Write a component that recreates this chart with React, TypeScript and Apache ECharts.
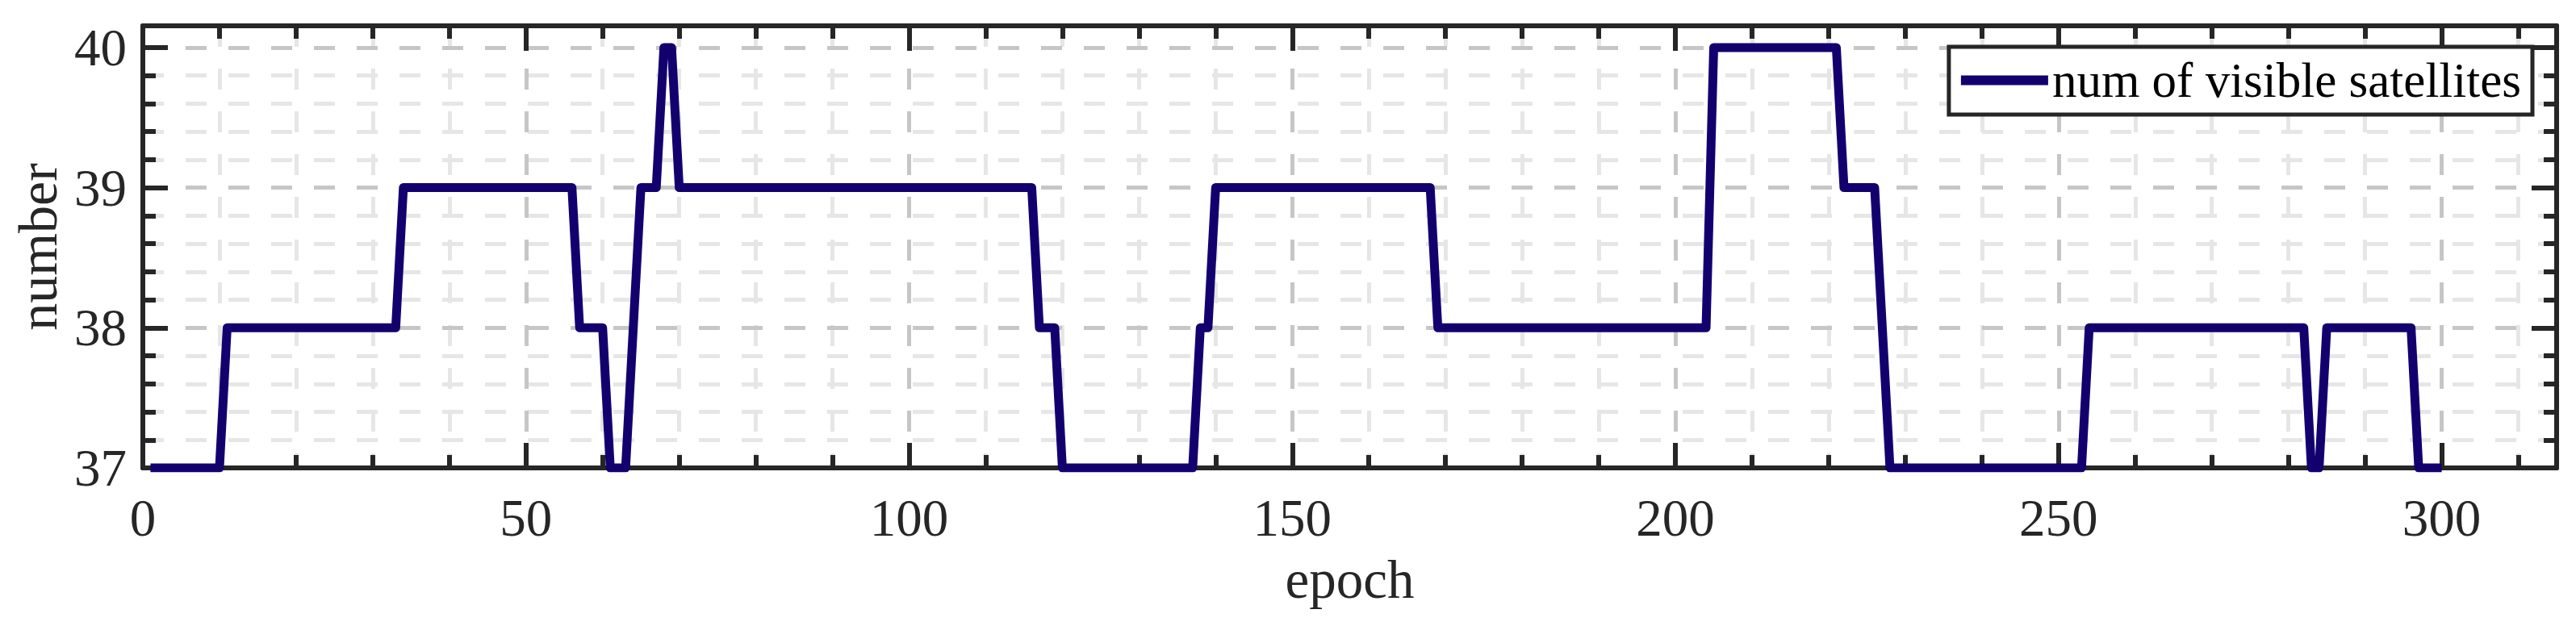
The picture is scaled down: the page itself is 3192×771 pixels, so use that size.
import React, { useEffect, useRef } from "react";
import * as echarts from "echarts";

// Breakpoints of the step-like curve (epoch, number of visible satellites)
const epochs = [1, 10, 11, 33, 34, 56, 57, 60, 61, 63, 64, 65, 67, 68, 69, 70, 116, 117, 119, 120, 137, 138, 139, 140, 168, 169, 204, 205, 221, 222, 226, 227, 228, 253, 254, 282, 283, 284, 285, 296, 297, 300];
const counts = [37, 37, 38, 38, 39, 39, 38, 38, 37, 37, 38, 39, 39, 40, 40, 39, 39, 38, 38, 37, 37, 38, 38, 39, 39, 38, 38, 40, 40, 39, 39, 38, 37, 37, 38, 38, 37, 37, 38, 38, 37, 37];

const seriesName = "num of visible satellites";
const xLabel = "epoch";
const yLabel = "number";

const X_MIN = 0;
const X_MAX = 315;
const Y_MIN = 37;
const Y_MAX = 40.155;

const FONT = "Liberation Serif";
const AXIS_COLOR = "#262626";
const MAJOR_GRID = "#c6c6c6";
const MINOR_GRID = "#e6e6e6";
const LINE_COLOR = "#12006e";

export default function App() {
  const ref = useRef<HTMLDivElement>(null);

  useEffect(() => {
    if (!ref.current) return;
    const chart = echarts.init(ref.current, null, { renderer: "svg" });

    const data = epochs.map((e, i) => [e, counts[i]]);

    const hDash = [26, 27];
    const vDash = [26, 27];
    const AW = 6; // axis / tick width

    const baseX = (opts: any) => ({
      type: "value",
      min: X_MIN,
      max: X_MAX,
      axisLine: { show: false, onZero: false },
      axisTick: { show: false },
      axisLabel: { show: false },
      splitLine: { show: false },
      ...opts,
    });
    const baseY = (opts: any) => ({
      type: "value",
      min: Y_MIN,
      max: Y_MAX,
      axisLine: { show: false, onZero: false },
      axisTick: { show: false },
      axisLabel: { show: false },
      splitLine: { show: false },
      ...opts,
    });

    const option: any = {
      animation: false,
      backgroundColor: "#ffffff",
      grid: { left: 177, right: 24, top: 32, bottom: 191, containLabel: false },
      legend: {
        show: true,
        data: [seriesName],
        right: 54,
        top: 58,
        orient: "horizontal",
        icon: "rect",
        itemWidth: 108,
        itemHeight: 12,
        padding: [11, 14, 12, 15],
        backgroundColor: "#ffffff",
        borderColor: AXIS_COLOR,
        borderWidth: 5,
        textStyle: { fontFamily: FONT, fontSize: 61, color: "#000000", lineHeight: 60 },
        z: 10,
      },
      xAxis: [
        baseX({
          position: "bottom",
          interval: 10,
          z: 0,
          axisTick: { show: true, inside: true, length: 16, lineStyle: { color: AXIS_COLOR, width: AW } },
          splitLine: { show: true, showMinLine: false, showMaxLine: false, lineStyle: { color: MINOR_GRID, width: 5, type: vDash } },
        }),
        baseX({
          position: "bottom",
          interval: 50,
          z: 1,
          name: xLabel,
          nameLocation: "middle",
          nameGap: 104,
          nameTextStyle: { fontFamily: FONT, fontSize: 67, color: AXIS_COLOR },
          axisLine: { show: true, onZero: false, lineStyle: { color: AXIS_COLOR, width: AW } },
          axisTick: { show: true, inside: true, length: 31, lineStyle: { color: AXIS_COLOR, width: AW } },
          axisLabel: { show: true, showMaxLabel: false, margin: 29, fontFamily: FONT, fontSize: 65, color: AXIS_COLOR },
          splitLine: { show: true, showMinLine: false, showMaxLine: false, lineStyle: { color: MAJOR_GRID, width: 5, type: vDash } },
        }),
        baseX({
          position: "top",
          interval: 10,
          z: 1,
          axisTick: { show: true, inside: true, length: 16, lineStyle: { color: AXIS_COLOR, width: AW } },
        }),
        baseX({
          position: "top",
          interval: 50,
          z: 1,
          axisLine: { show: true, onZero: false, lineStyle: { color: AXIS_COLOR, width: AW } },
          axisTick: { show: true, inside: true, length: 31, lineStyle: { color: AXIS_COLOR, width: AW } },
        }),
      ],
      yAxis: [
        baseY({
          position: "left",
          interval: 0.2,
          z: 0,
          axisTick: { show: true, inside: true, length: 16, lineStyle: { color: AXIS_COLOR, width: AW } },
          splitLine: { show: true, showMinLine: false, showMaxLine: false, lineStyle: { color: MINOR_GRID, width: 5, type: hDash } },
        }),
        baseY({
          position: "left",
          interval: 1,
          z: 1,
          name: yLabel,
          nameLocation: "middle",
          nameGap: 96,
          nameRotate: 90,
          nameTextStyle: { fontFamily: FONT, fontSize: 68, color: AXIS_COLOR },
          axisLine: { show: true, onZero: false, lineStyle: { color: AXIS_COLOR, width: AW } },
          axisTick: { show: true, inside: true, length: 31, lineStyle: { color: AXIS_COLOR, width: AW } },
          axisLabel: { show: true, showMaxLabel: false, margin: 20, fontFamily: FONT, fontSize: 65, color: AXIS_COLOR },
          splitLine: { show: true, showMinLine: false, showMaxLine: false, lineStyle: { color: MAJOR_GRID, width: 5, type: hDash } },
        }),
        baseY({
          position: "right",
          interval: 0.2,
          z: 1,
          axisTick: { show: true, inside: true, length: 16, lineStyle: { color: AXIS_COLOR, width: AW } },
        }),
        baseY({
          position: "right",
          interval: 1,
          z: 1,
          axisLine: { show: true, onZero: false, lineStyle: { color: AXIS_COLOR, width: AW } },
          axisTick: { show: true, inside: true, length: 31, lineStyle: { color: AXIS_COLOR, width: AW } },
        }),
      ],
      series: [
        {
          name: seriesName,
          type: "line",
          xAxisIndex: 1,
          yAxisIndex: 1,
          data,
          showSymbol: false,
          symbol: "none",
          z: 5,
          color: LINE_COLOR,
          lineStyle: { color: LINE_COLOR, width: 11, join: "round", cap: "butt" },
        },
      ],
    };

    chart.setOption(option);
    return () => chart.dispose();
  }, []);

  return (
    <div
      ref={ref}
      style={{ position: "absolute", left: 0, top: 0, width: 3192, height: 771, background: "#fff" }}
    />
  );
}
